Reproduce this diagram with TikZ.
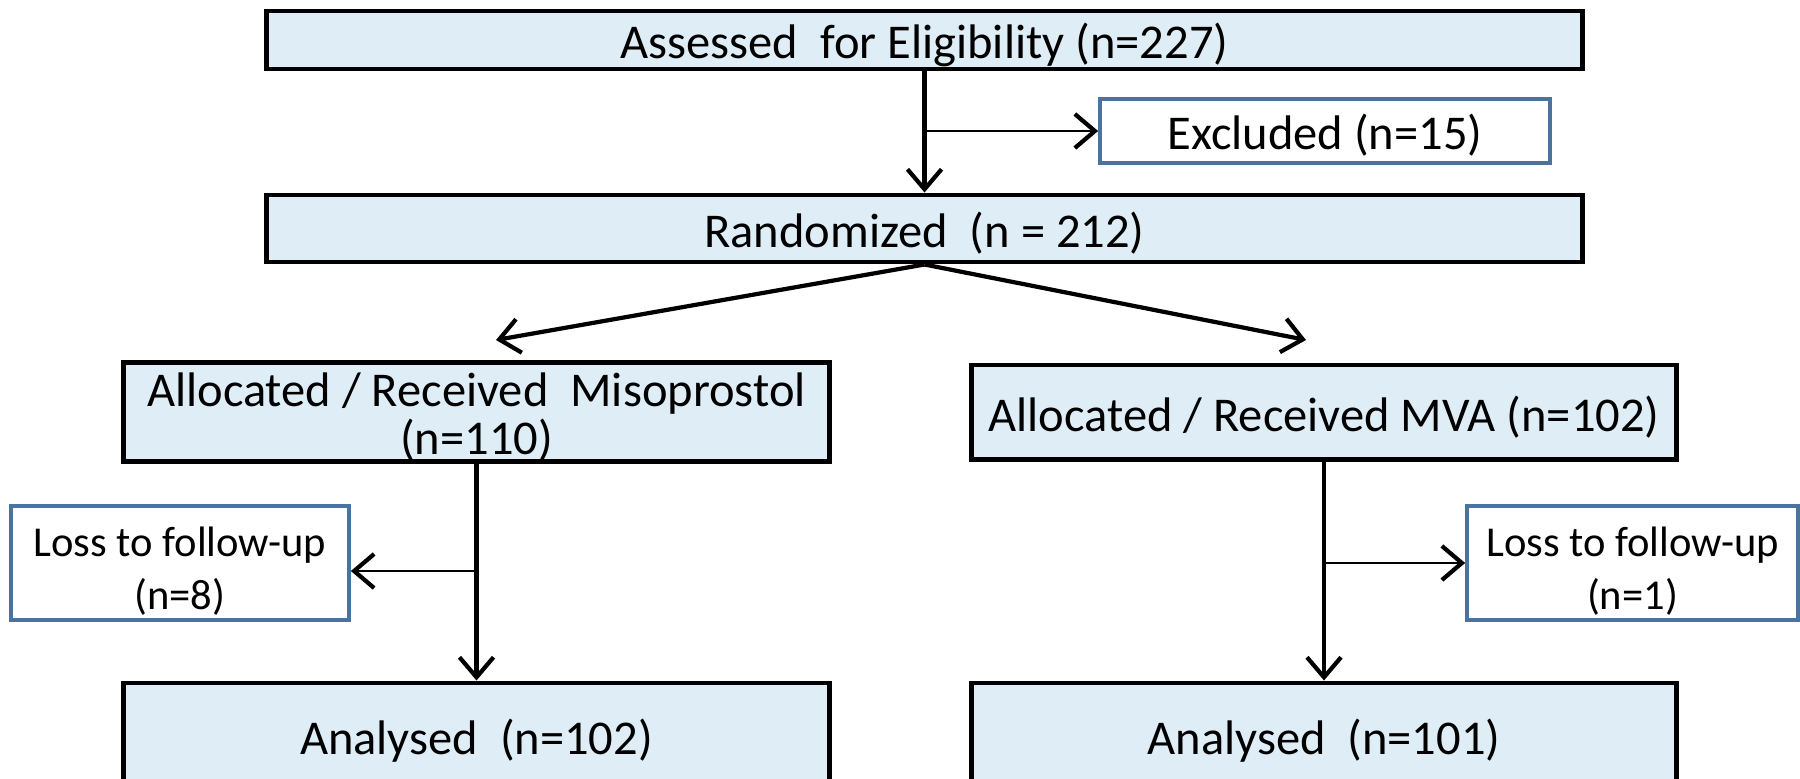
\documentclass[tikz,border=0pt]{standalone}
\usepackage{fontspec}
\setmainfont{Carlito}
\usetikzlibrary{arrows.meta}
\definecolor{boxfill}{RGB}{223,238,246}
\definecolor{sideblue}{RGB}{74,115,160}

\begin{document}
\begin{tikzpicture}[x=0.01cm, y=-0.01cm,
  every node/.style={font=\fontsize{13.8}{13.6}\selectfont, inner sep=0pt},
  mainbox/.style={draw=black, line width=1.4pt, fill=boxfill, align=center},
  sidebox/.style={draw=sideblue, line width=1pt, fill=white, align=center},
  oneline/.style={text height=11pt, text depth=0.2pt},
  losstext/.style={font=\fontsize{12.1}{15}\selectfont},
  flow/.style={line width=1.2pt, ->},
  branch/.style={line width=0.6pt, ->},
  >={Straight Barb[length=2mm, width=3.4mm, line width=1.2pt]}]
\clip (0,0) rectangle (1800,778);
% boxes
\node[mainbox, oneline, minimum width=13.15cm, minimum height=0.58cm] (assess) at (924.5,40) {Assessed\ \ for Eligibility (n=227)};
\node[sidebox, oneline, minimum width=4.5cm, minimum height=0.64cm] (excl) at (1325,131) {Excluded (n=15)};
\node[mainbox, oneline, minimum width=13.15cm, minimum height=0.67cm] (random) at (924.5,228.5) {Randomized\ \ (n = 212)};
\node[mainbox, minimum width=7.05cm, minimum height=0.94cm] (miso) at (476.5,412) {\rule{0pt}{12.6pt}Allocated / Received\ \ Misoprostol\\(n=110)};
\node[mainbox, oneline, minimum width=7.04cm, minimum height=0.94cm] (mva) at (1324,412) {Allocated / Received MVA (n=102)};
\node[sidebox, losstext, minimum width=3.38cm, minimum height=1.14cm] (lossL) at (180,563) {\rule{0pt}{13pt}Loss to follow-up\\(n=8)};
\node[sidebox, losstext, minimum width=3.31cm, minimum height=1.14cm] (lossR) at (1632.5,563) {\rule{0pt}{13pt}Loss to follow-up\\(n=1)};
\node[mainbox, oneline, minimum width=7.05cm, minimum height=1.04cm] (anL) at (476.5,735) {Analysed\ \ (n=102)};
\node[mainbox, oneline, minimum width=7.04cm, minimum height=1.04cm] (anR) at (1324,735) {Analysed\ \ (n=101)};
% arrows
\coordinate (toL) at (496,340);
\coordinate (toR) at (1306,340);
\coordinate (splitL) at (479,571);
\draw[flow] (assess.south) -- (random.north);
\draw[branch] (assess.south |- excl.west) -- (excl.west);
\draw[flow] (random.south) -- (toL);
\draw[flow] (random.south) -- (toR);
\draw[flow] (miso.south) -- (anL.north);
\draw[branch] (splitL) -- (lossL.east |- splitL);
\draw[flow] (mva.south) -- (anR.north);
\draw[branch] (mva.south |- lossR.west) -- (lossR.west);
\end{tikzpicture}
\end{document}
